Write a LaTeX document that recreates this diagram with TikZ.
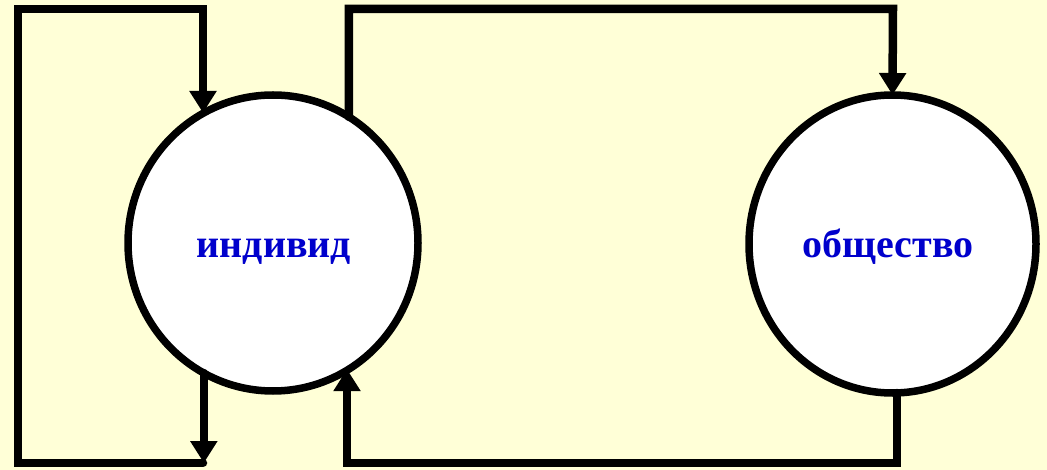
\documentclass[tikz,border=0pt]{standalone}
\usepackage{fontspec}
\setmainfont{Liberation Serif}
\usetikzlibrary{arrows.meta,shapes.geometric}
\definecolor{bg}{HTML}{FFFFD7}
\definecolor{txt}{HTML}{0000CC}
\begin{document}
\begin{tikzpicture}[x=1pt,y=-1pt,
  circ/.style={ellipse, draw=black, line width=7.5pt, fill=white, inner sep=0pt, outer sep=0pt},
  conn/.style={line width=8.5pt, line join=miter, line cap=round},
  arr/.style={conn, -{Triangle[width=26pt,length=22pt]}},
  lbl/.style={font=\fontsize{40}{48}\selectfont\bfseries, text=txt, anchor=base, inner sep=0pt}]
\fill[bg] (0,0) rectangle (1047,470);
\useasboundingbox (0,0) rectangle (1047,470);
\node[circ, minimum width=290pt, minimum height=296pt] (ind) at (273,243) {};
\node[circ, minimum width=287pt, minimum height=298pt] (obs) at (892.5,244) {};
\node[lbl] (indl) at (274,258) {индивид};
\node[lbl] (obsl) at (888,258) {общество};
% left loop
\coordinate (tlA) at (203,9);
\coordinate (tlB) at (18,9);
\coordinate (blA) at (18,463);
\coordinate (blB) at (203,463);
\draw[arr] (blB) -- (blA) -- (tlB) -- (tlA) -- (tlA |- ind.118.4);
\draw[arr] (ind.-118.4) -- (ind.-118.4 |- blB);
% right loop
\coordinate (trA) at (347,9);
\coordinate (trB) at (893,9);
\draw[arr] (ind.59.8) -- (ind.59.8 |- trA) -- (trB) -- (obs.north);
\coordinate (brA) at (897,463);
\coordinate (brB) at (347,463);
\draw[arr] (obs.south -| brA) -- (brA) -- (brB) -- (brB |- ind.-59.8);
\end{tikzpicture}
\end{document}
